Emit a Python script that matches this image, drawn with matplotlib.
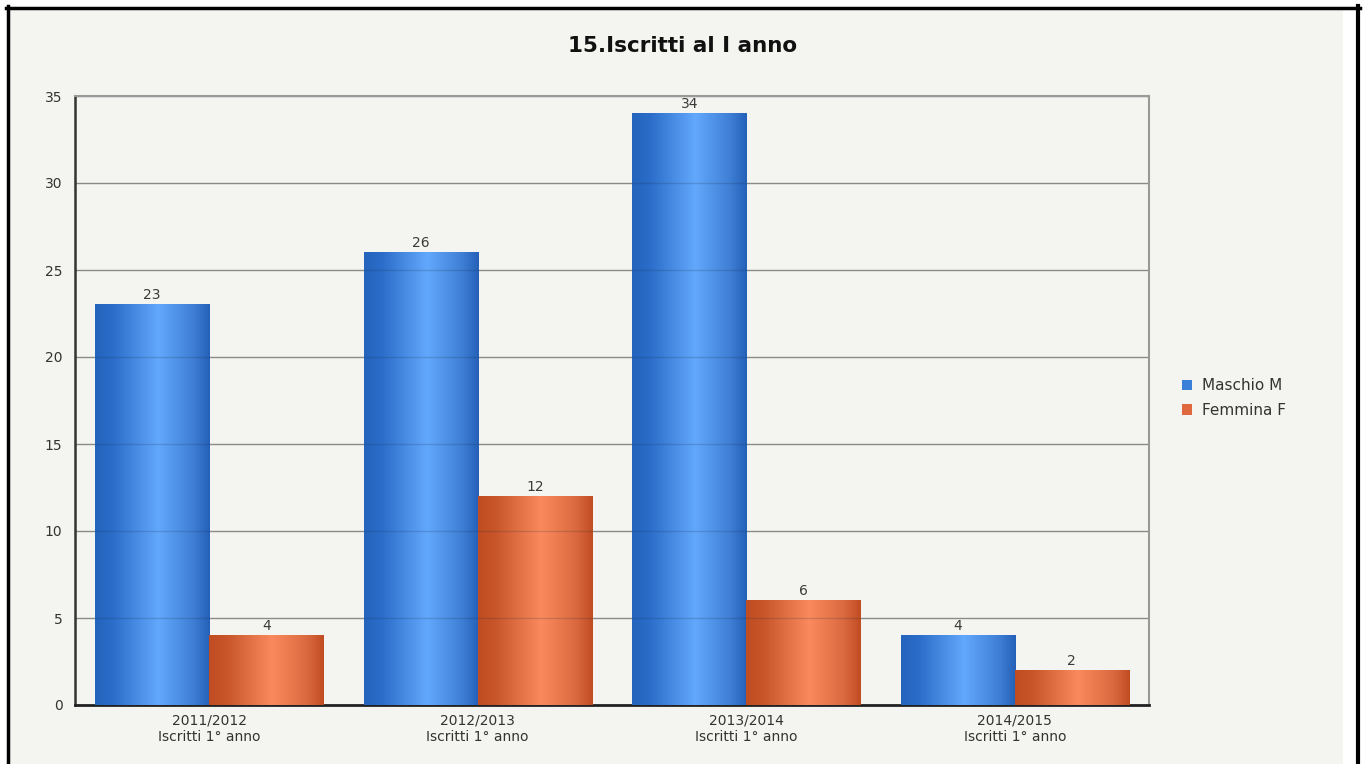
import matplotlib.pyplot as plt
import numpy as np
from matplotlib.patches import Rectangle
from matplotlib.colors import LinearSegmentedColormap

years = ["2011/2012", "2012/2013", "2013/2014", "2014/2015"]
sub_label = "Iscritti 1° anno"
maschio = [23, 26, 34, 4]
femmina = [4, 12, 6, 2]
series_names = ["Maschio M", "Femmina F"]
y_ticks = [0, 5, 10, 15, 20, 25, 30, 35]

W, H = 1365, 764
fig = plt.figure(figsize=(W / 100, H / 100), dpi=100, facecolor="white")

# background panel with black frame (left/top/right), like the screenshot
bg = "#f4f4f0"
fig.patches.append(Rectangle((9 / W, -0.1), (1343 - 9) / W, 1.1 - 9 / H,
                             transform=fig.transFigure, facecolor=bg,
                             edgecolor="none", zorder=-10))
fig.add_artist(plt.Line2D([7.5 / W, 7.5 / W], [0, 1 - 6 / H], color="black", lw=2.5,
                          transform=fig.transFigure))
fig.add_artist(plt.Line2D([6 / W, 1360 / W], [1 - 7.5 / H, 1 - 7.5 / H], color="black", lw=2.5,
                          transform=fig.transFigure))
fig.add_artist(plt.Line2D([1358 / W, 1358 / W], [0, 1 - 6 / H], color="black", lw=3,
                          transform=fig.transFigure))

ax = fig.add_axes([75 / W, 1 - 705 / H, (1149 - 75) / W, (705 - 96) / H])
ax.set_facecolor(bg)

blue_cm = LinearSegmentedColormap.from_list(
    "b", [(0, "#2464bc"), (0.15, "#2a6cc8"), (0.55, "#62a8fc"), (0.85, "#3f80d6"), (1, "#2560b8")])
orange_cm = LinearSegmentedColormap.from_list(
    "o", [(0, "#c04c22"), (0.15, "#c8552a"), (0.55, "#fa8a5e"), (0.85, "#dc6a40"), (1, "#c04c22")])
grad = np.linspace(0, 1, 256).reshape(1, -1)

bw = 0.425
x = np.arange(len(years))
for vals, cm, off in [(maschio, blue_cm, -bw / 2), (femmina, orange_cm, bw / 2)]:
    for xi, v in zip(x, vals):
        x0 = xi + off - bw / 2
        ax.imshow(grad, cmap=cm, extent=(x0, x0 + bw, 0, v), aspect="auto",
                  interpolation="bilinear", zorder=3)
        # faint grid lines show through the bars
        inside = [t for t in y_ticks[1:] if t < v]
        if inside:
            ax.hlines(inside, x0, x0 + bw, color="#1a2a40", lw=1, alpha=0.18, zorder=3.5)
        ax.text(xi + off, v + 0.15, str(v), ha="center", va="bottom",
                fontsize=10, color="#3a3a3a", zorder=4)

ax.set_xlim(-0.5, 3.5)
ax.set_ylim(0, 35)
ax.set_yticks(y_ticks)
ax.set_xticks(x)
ax.set_xticklabels([f"{y}\n{sub_label}" for y in years], fontsize=10, color="#333333",
                   linespacing=1.2)
ax.tick_params(axis="y", labelsize=10, labelcolor="#333333", length=0, pad=9)
ax.tick_params(axis="x", length=0, pad=6)
ax.grid(axis="y", color="#8a8a8a", lw=1, zorder=1)
ax.set_axisbelow(True)
for s in ["top", "right"]:
    ax.spines[s].set_color("#999999")
    ax.spines[s].set_linewidth(1.5)
ax.spines["left"].set_color("#333333")
ax.spines["left"].set_linewidth(1.8)
ax.spines["bottom"].set_color("#222222")
ax.spines["bottom"].set_linewidth(2)

handles = [Rectangle((0, 0), 1, 1, facecolor="#3a7fd8"),
           Rectangle((0, 0), 1, 1, facecolor="#e0683e")]
fig.legend(handles, series_names, loc="center left", bbox_to_anchor=(1168 / W, 1 - 398 / H),
           frameon=False, fontsize=11, handlelength=0.7, handleheight=0.7,
           handletextpad=0.6, labelspacing=0.6, labelcolor="#333333")

fig.text(683 / W, 1 - 46 / H, "15.Iscritti al I anno", ha="center", va="center",
         fontsize=15.5, fontweight="bold", color="#111111")

fig.savefig("out.png", dpi=100, facecolor="white")
